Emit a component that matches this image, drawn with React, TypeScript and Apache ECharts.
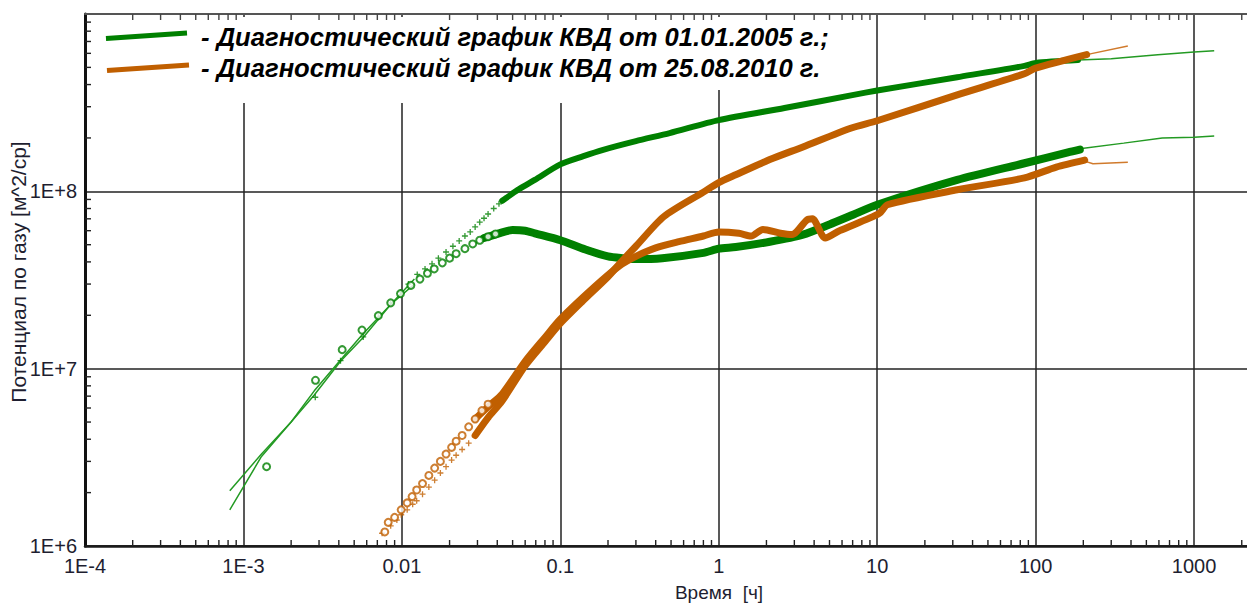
import React, { useEffect, useRef } from "react";
import * as echarts from "echarts";

type Pt = [number, number];

// Axis ranges and tick labels
const X_MIN = 1e-4;
const X_MAX = 2460;
const Y_MIN = 1e6;
const Y_MAX = 1e9;
const xTickLabels = ["1E-4", "1E-3", "0.01", "0.1", "1", "10", "100", "1000"];
const yTickLabels = ["1E+6", "1E+7", "1E+8"];
const minorSteps = [2, 3, 4, 5, 6, 7, 8, 9];

const legendNames = [
  "- Диагностический график КВД от 01.01.2005 г.;",
  "- Диагностический график КВД от 25.08.2010 г.",
];
const xAxisName = "Время  [ч]";
const yAxisName = "Потенциал по газу [м^2/ср]";

// КВД 01.01.2005: pressure potential change (crosses) and its derivative (circles)
const kvd2005PressureMarks: Pt[] = [
  [0.00284, 6.9e6], [0.0041, 1.11e7], [0.0057, 1.51e7], [0.0071, 1.95e7], [0.0085, 2.35e7],
  [0.0098, 2.7e7], [0.011, 3.0e7], [0.0125, 3.4e7], [0.014, 3.65e7], [0.0155, 3.9e7],
  [0.017, 4.2e7], [0.019, 4.55e7], [0.021, 4.9e7], [0.023, 5.25e7], [0.025, 5.6e7],
  [0.027, 5.9e7], [0.029, 6.3e7], [0.031, 6.7e7], [0.033, 7.05e7], [0.035, 7.45e7],
  [0.038, 8.0e7], [0.041, 8.5e7], [0.045, 9.1e7], [0.05, 9.8e7],
];
const kvd2005PressureBand: Pt[] = [
  [0.043, 8.85e7], [0.055, 1.03e8], [0.069, 1.16e8], [0.1, 1.42e8], [0.14, 1.58e8],
  [0.184, 1.71e8], [0.3, 1.92e8], [0.49, 2.13e8], [1.0, 2.52e8], [2.6, 2.95e8],
  [7.1, 3.5e8], [10, 3.7e8], [32, 4.4e8], [85, 5.1e8], [100, 5.3e8], [185, 5.5e8],
];
const kvd2005DerivMarks: Pt[] = [
  [0.0014, 2.8e6], [0.00285, 8.6e6], [0.0042, 1.28e7], [0.0056, 1.65e7], [0.0071, 1.99e7],
  [0.0085, 2.35e7], [0.0098, 2.65e7], [0.0114, 2.95e7], [0.013, 3.2e7], [0.0145, 3.45e7],
  [0.016, 3.65e7], [0.018, 3.95e7], [0.02, 4.2e7], [0.022, 4.45e7], [0.025, 4.75e7],
  [0.028, 5.05e7], [0.031, 5.3e7], [0.035, 5.55e7], [0.039, 5.75e7],
];
const kvd2005DerivBand: Pt[] = [
  [0.033, 5.45e7], [0.041, 5.8e7], [0.05, 6.05e7], [0.06, 6.0e7], [0.069, 5.8e7],
  [0.1, 5.3e7], [0.144, 4.7e7], [0.2, 4.3e7], [0.25, 4.2e7], [0.3, 4.15e7],
  [0.44, 4.2e7], [0.8, 4.5e7], [1.0, 4.75e7], [1.28, 4.85e7], [2.1, 5.2e7],
  [3.4, 5.7e7], [5.0, 6.5e7], [7.1, 7.4e7], [10, 8.4e7], [32, 1.16e8],
  [85, 1.44e8], [160, 1.66e8], [190, 1.72e8],
];
// model curves of 2005 (visible before and after the measured data)
const kvd2005PressureModelEarly: Pt[] = [
  [0.00082, 1.6e6], [0.0013, 3.2e6], [0.0028, 7.1e6], [0.0041, 1.1e7],
  [0.0057, 1.5e7], [0.0085, 2.3e7], [0.012, 3.2e7],
];
const kvd2005DerivModelEarly: Pt[] = [
  [0.00082, 2.05e6], [0.0013, 3.3e6], [0.002, 5.0e6], [0.0028, 7.5e6],
  [0.0042, 1.15e7], [0.0056, 1.55e7], [0.0085, 2.3e7], [0.012, 3.0e7],
];
const kvd2005PressureModelTail: Pt[] = [
  [185, 5.5e8], [300, 5.6e8], [590, 5.9e8], [1000, 6.1e8], [1340, 6.2e8],
];
const kvd2005DerivModelTail: Pt[] = [
  [190, 1.74e8], [360, 1.87e8], [630, 2.0e8], [1000, 2.02e8], [1340, 2.05e8],
];

// КВД 25.08.2010
const kvd2010PressureMarks: Pt[] = [
  [0.0075, 1.18e6], [0.0085, 1.3e6], [0.0093, 1.4e6], [0.0099, 1.5e6], [0.0108, 1.6e6],
  [0.0117, 1.72e6], [0.0124, 1.8e6], [0.0135, 1.96e6], [0.0148, 2.15e6], [0.0161, 2.35e6],
  [0.0175, 2.58e6], [0.019, 2.8e6], [0.0206, 3.05e6], [0.022, 3.25e6], [0.024, 3.5e6],
  [0.0264, 3.8e6], [0.029, 4.2e6], [0.032, 4.7e6], [0.035, 5.2e6],
];
const kvd2010PressureBand: Pt[] = [
  [0.029, 4.2e6], [0.035, 5.3e6], [0.043, 6.6e6], [0.06, 1.04e7], [0.08, 1.42e7],
  [0.1, 1.8e7], [0.138, 2.4e7], [0.2, 3.3e7], [0.236, 3.9e7], [0.3, 4.9e7],
  [0.45, 7.2e7], [0.8, 9.9e7], [1.0, 1.12e8], [1.28, 1.24e8], [2.1, 1.51e8],
  [3.4, 1.78e8], [6.8, 2.27e8], [10, 2.5e8], [32, 3.5e8], [85, 4.6e8],
  [100, 4.95e8], [210, 5.9e8],
];
const kvd2010DerivMarks: Pt[] = [
  [0.0078, 1.2e6], [0.0082, 1.36e6], [0.009, 1.45e6], [0.0099, 1.6e6], [0.0108, 1.75e6],
  [0.0116, 1.9e6], [0.0124, 2.07e6], [0.0135, 2.25e6], [0.0148, 2.5e6], [0.0161, 2.75e6],
  [0.0175, 3.0e6], [0.019, 3.3e6], [0.0206, 3.6e6], [0.022, 3.9e6], [0.024, 4.2e6],
  [0.0264, 4.7e6], [0.029, 5.2e6], [0.032, 5.8e6], [0.035, 6.3e6],
];
const kvd2010DerivBand: Pt[] = [
  [0.029, 5.2e6], [0.035, 6.1e6], [0.043, 7.2e6], [0.06, 1.1e7], [0.08, 1.5e7],
  [0.1, 1.9e7], [0.165, 2.9e7], [0.236, 3.8e7], [0.3, 4.3e7], [0.4, 4.8e7],
  [0.56, 5.2e7], [0.8, 5.6e7], [1.0, 5.9e7], [1.34, 5.8e7], [1.6, 5.6e7],
  [1.9, 6.1e7], [2.45, 5.8e7], [2.9, 5.7e7], [3.6, 6.9e7], [3.9, 7.0e7],
  [4.7, 5.45e7], [5.8, 6.0e7], [10.3, 7.5e7], [11.6, 8.4e7], [32, 1.02e8],
  [85, 1.19e8], [135, 1.37e8], [204, 1.5e8],
];
const kvd2010PressureModelTail: Pt[] = [[210, 5.9e8], [382, 6.6e8]];
const kvd2010DerivModelTail: Pt[] = [[204, 1.48e8], [230, 1.43e8], [382, 1.46e8]];

const GREEN = "#008000";
const GREEN_THIN = "#239a23";
const ORANGE = "#c05f00";
const ORANGE_THIN = "#d07a2c";
const CROSS = "path://M5,0L5,10M0,5L10,5";
const FONT = "Arial, 'Liberation Sans', sans-serif";

const bandSeries = (data: Pt[], color: string, width: number) => ({
  type: "line",
  data,
  symbol: "none",
  silent: true,
  smooth: 0.25,
  lineStyle: { color, width, cap: "round", join: "round" },
  z: 3,
});

const modelSeries = (data: Pt[], color: string) => ({
  type: "line",
  data,
  symbol: "none",
  silent: true,
  lineStyle: { color, width: 1.5 },
  z: 3,
});

const markSeries = (data: Pt[], color: string, kind: "circle" | "cross") => ({
  type: "scatter",
  data,
  symbol: kind === "circle" ? "emptyCircle" : CROSS,
  symbolSize: kind === "circle" ? 7 : 6,
  silent: true,
  itemStyle: { color, borderColor: color, borderWidth: 1.3 },
  z: 4,
});

const exponentOf = (v: number) => Math.round(Math.log10(v));
const isDecade = (v: number) => Math.abs(Math.log10(v) - exponentOf(v)) < 1e-6;

const textStyle = (text: string, font: string, align: string) => ({
  text,
  font,
  fill: "#1e1e30",
  align,
  verticalAlign: "middle",
  textAlign: align,
  textVerticalAlign: "middle",
});

export default function App() {
  const ref = useRef<HTMLDivElement>(null);

  useEffect(() => {
    document.body.style.margin = "0";
    document.body.style.overflow = "hidden";
    const chart = echarts.init(ref.current!, undefined, { renderer: "svg" });

    const xMinor: Pt[] = [];
    for (let e = -4; e <= 3; e++)
      for (const s of minorSteps) {
        const v = s * Math.pow(10, e);
        if (v < X_MAX) xMinor.push([v, Y_MIN]);
      }
    const yMinor: Pt[] = [];
    for (let e = 6; e <= 8; e++) for (const s of minorSteps) yMinor.push([X_MIN, s * Math.pow(10, e)]);

    const logAxisBase = { type: "log", logBase: 10 };

    chart.setOption({
      animation: false,
      backgroundColor: "#ffffff",
      grid: { left: 85, right: 6, top: 14, bottom: 57 },
      xAxis: [
        {
          ...logAxisBase,
          min: X_MIN,
          max: X_MAX,
          position: "bottom",
          axisLine: { lineStyle: { color: "#1a1a1a", width: 2.5 } },
          axisTick: { show: false },
          splitLine: { show: true, lineStyle: { color: "#222", width: 1.5 } },
          axisLabel: {
            margin: 10,
            fontSize: 20,
            fontFamily: FONT,
            color: "#1e1e30",
            showMinLabel: true,
            formatter: (v: number) => (isDecade(v) ? xTickLabels[exponentOf(v) + 4] ?? "" : ""),
          },
        },
        {
          ...logAxisBase,
          min: X_MIN,
          max: X_MAX,
          position: "top",
          axisLine: { lineStyle: { color: "#555", width: 2 } },
          axisTick: { show: false },
          axisLabel: { show: false },
          splitLine: { show: false },
        },
      ],
      yAxis: {
        ...logAxisBase,
        min: Y_MIN,
        max: Y_MAX,
        axisLine: { lineStyle: { color: "#111", width: 3 } },
        axisTick: { show: false },
        splitLine: { show: true, lineStyle: { color: "#222", width: 1.5 } },
        axisLabel: {
          margin: 8,
          fontSize: 20,
          fontFamily: FONT,
          color: "#1e1e30",
          padding: [6, 0, 0, 0],
          showMinLabel: true,
          formatter: (v: number) => {
            const e = exponentOf(v);
            return isDecade(v) && e >= 6 && e <= 8 ? yTickLabels[e - 6] : "";
          },
        },
      },
      graphic: [
        { type: "rect", z: 1, shape: { x: 87, y: 17, width: 628, height: 86 }, style: { fill: "#fff" } },
        { type: "rect", z: 1, shape: { x: 715, y: 17, width: 125, height: 73 }, style: { fill: "#fff" } },
        {
          type: "polyline",
          z: 50,
          shape: { points: [[106, 38.5], [187, 33]] },
          style: { stroke: GREEN, lineWidth: 5, fill: "none" },
        },
        {
          type: "polyline",
          z: 50,
          shape: { points: [[107, 70.5], [189, 65]] },
          style: { stroke: ORANGE, lineWidth: 5, fill: "none" },
        },
        {
          type: "text",
          z: 50,
          x: 201,
          y: 37,
          style: { ...textStyle(legendNames[0], `italic bold 25.6px ${FONT}`, "left"), fill: "#000" },
        },
        {
          type: "text",
          z: 50,
          x: 201,
          y: 68,
          style: { ...textStyle(legendNames[1], `italic bold 25.6px ${FONT}`, "left"), fill: "#000" },
        },
        {
          type: "text",
          z: 50,
          x: 719,
          y: 592,
          style: textStyle(xAxisName, `19px ${FONT}`, "center"),
        },
        {
          type: "text",
          z: 50,
          x: 18,
          y: 272,
          rotation: Math.PI / 2,
          style: textStyle(yAxisName, `21px ${FONT}`, "center"),
        },
      ],
      series: [
        // minor ticks on the bottom and top frame
        {
          type: "custom",
          data: xMinor,
          silent: true,
          clip: false,
          z: 5,
          renderItem: (_p: any, api: any) => {
            const v = api.value(0);
            const b = api.coord([v, Y_MIN]);
            const t = api.coord([v, Y_MAX]);
            return {
              type: "group",
              children: [
                { type: "line", shape: { x1: b[0], y1: b[1], x2: b[0], y2: b[1] - 6 }, style: { stroke: "#222", lineWidth: 1.4 } },
                { type: "line", shape: { x1: t[0], y1: t[1], x2: t[0], y2: t[1] + 6 }, style: { stroke: "#444", lineWidth: 1.4 } },
              ],
            };
          },
        },
        // minor ticks on the left frame
        {
          type: "custom",
          data: yMinor,
          silent: true,
          clip: false,
          z: 5,
          renderItem: (_p: any, api: any) => {
            const c = api.coord([X_MIN, api.value(1)]);
            return {
              type: "line",
              shape: { x1: c[0], y1: c[1], x2: c[0] + 6, y2: c[1] },
              style: { stroke: "#222", lineWidth: 1.4 },
            };
          },
        },
        modelSeries(kvd2005PressureModelEarly, GREEN_THIN),
        modelSeries(kvd2005DerivModelEarly, GREEN_THIN),
        modelSeries(kvd2005PressureModelTail, GREEN_THIN),
        modelSeries(kvd2005DerivModelTail, GREEN_THIN),
        markSeries(kvd2005PressureMarks, GREEN, "cross"),
        markSeries(kvd2005DerivMarks, GREEN, "circle"),
        bandSeries(kvd2005PressureBand, GREEN, 6),
        bandSeries(kvd2005DerivBand, GREEN, 8),
        modelSeries(kvd2010PressureModelTail, ORANGE_THIN),
        modelSeries(kvd2010DerivModelTail, ORANGE_THIN),
        markSeries(kvd2010PressureMarks, ORANGE, "cross"),
        markSeries(kvd2010DerivMarks, ORANGE, "circle"),
        bandSeries(kvd2010PressureBand, ORANGE, 7),
        bandSeries(kvd2010DerivBand, ORANGE, 7),
      ],
    });

    return () => chart.dispose();
  }, []);

  return (
    <div
      ref={ref}
      style={{ position: "fixed", left: 0, top: 0, width: 1262, height: 603, background: "#fff" }}
    />
  );
}
